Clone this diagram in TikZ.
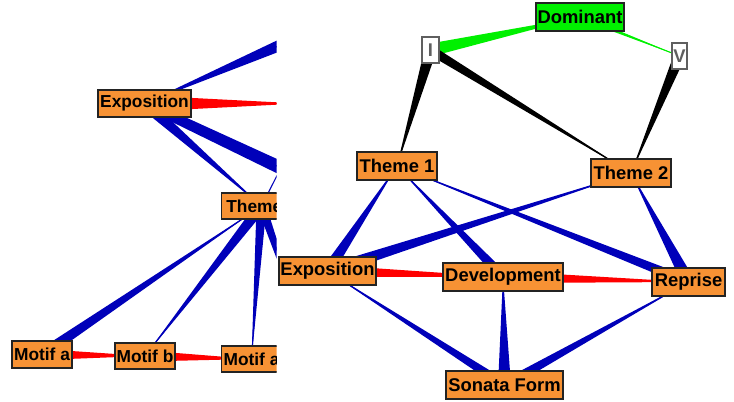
\documentclass[tikz,border=0pt]{standalone}
\usepackage{fontspec}
\setmainfont{Liberation Sans}
\usetikzlibrary{calc}
\pgfdeclarelayer{bg}
\pgfsetlayers{bg,main}
\definecolor{orng}{RGB}{247,146,52}
\definecolor{grn}{RGB}{0,240,0}
\definecolor{eblue}{RGB}{0,0,185}
\definecolor{ered}{RGB}{255,0,0}
\definecolor{bord}{RGB}{35,35,35}
\definecolor{rgray}{RGB}{95,95,95}
% tapered connector: colour, thick node, other node, width at first (px), width at second (px)
\newcommand\tpr[5]{%
  \fill[#1] ($(#2)!#4*0.375pt!90:(#3)$) -- ($(#3)!#5*0.375pt!-90:(#2)$)
    -- ($(#3)!#5*0.375pt!90:(#2)$) -- ($(#2)!#4*0.375pt!-90:(#3)$) -- cycle;
  \draw[#1,line width=0.8pt] (#2) -- (#3);}
\tikzset{
  sz/.style 2 args={minimum width=#1*0.75pt, minimum height=#2*0.75pt},
  obox/.style={draw=bord, line width=0.8pt, fill=orng, inner sep=0pt, text=black},
  gbox/.style={obox, fill=grn},
  wbox/.style={draw=rgray, line width=0.8pt, fill=white, inner sep=0pt, text=rgray},
  lfont/.style={font=\fontsize{13}{15}\selectfont\bfseries},
  rfont/.style={font=\fontsize{13.8}{16}\selectfont\bfseries}
}
\begin{document}
\begin{tikzpicture}[x=0.75pt,y=-0.75pt]
\useasboundingbox (0,0) rectangle (734,402);
% ---------- left panel (cut at the right) ----------
\begin{scope}
  \clip (0,0) rectangle (276.5,402);
  \node[obox,lfont,sz={93}{27}] (eL) at (144.5,103.5) {Exposition};
  \node[obox,lfont,sz={80}{26},anchor=west] (tL) at (221,206) {Theme 1};
  \node[obox,lfont,sz={60}{27}] (maL) at (42,354.5) {Motif a};
  \node[obox,lfont,sz={60}{26}] (mb) at (145,356) {Motif b};
  \node[obox,lfont,sz={60}{26},anchor=west] (maR) at (221,359) {Motif a};
  \coordinate (cUR) at (330,23.8);
  \coordinate (cR) at (300,103.5);
  \coordinate (cR2) at (480,262);
  \coordinate (cUp) at (290,150);
  \coordinate (cDR) at (315,360);
\end{scope}
\begin{pgfonlayer}{bg}
\begin{scope}
  \clip (0,0) rectangle (276.5,402);
  \tpr{eblue}{cUR}{eL}{15.5}{0}
  \tpr{ered}{eL}{cR}{16}{0}
  \tpr{eblue}{eL}{tL}{12}{0}
  \tpr{eblue}{eL}{cR2}{9}{19}
  \draw[eblue,line width=0.8pt] (tL) -- (cUp);
  \tpr{eblue}{tL}{cDR}{9}{0}
  \tpr{eblue}{maL}{tL}{11}{0}
  \tpr{eblue}{tL}{mb}{11}{0}
  \tpr{eblue}{tL}{maR}{10}{0}
  \tpr{ered}{maL}{mb}{11}{0}
  \tpr{ered}{mb}{maR}{11}{0}
\end{scope}
\end{pgfonlayer}
% ---------- right panel ----------
\node[gbox,rfont,sz={88}{28}] (dom) at (580,17) {Dominant};
\node[wbox,rfont,sz={17}{26}] (nI) at (430.5,50) {I};
\node[wbox,rfont,sz={15}{26}] (nV) at (679.5,56) {V};
\node[obox,rfont,sz={80}{28}] (t1) at (397,166) {Theme 1};
\node[obox,rfont,sz={80}{28}] (t2) at (631,173) {Theme 2};
\node[obox,rfont,sz={97}{28}] (ex) at (327.5,271) {Exposition};
\node[obox,rfont,sz={120}{28}] (dv) at (503,277) {Development};
\node[obox,rfont,sz={73}{28}] (rp) at (688.5,282) {Reprise};
\node[obox,rfont,sz={117}{28}] (sf) at (504.5,385) {Sonata Form};
\begin{pgfonlayer}{bg}
  \tpr{grn}{nI}{dom}{13}{0}
  \tpr{grn}{dom}{nV}{4.5}{0}
  \tpr{black}{nI}{t1}{12}{0}
  \tpr{black}{nI}{t2}{9.5}{0}
  \tpr{black}{nV}{t2}{11.5}{0}
  \tpr{eblue}{ex}{t1}{12}{0}
  \tpr{eblue}{dv}{t1}{10.5}{0}
  \tpr{eblue}{rp}{t1}{10}{0}
  \tpr{eblue}{ex}{t2}{12}{0}
  \tpr{eblue}{rp}{t2}{13}{0}
  \tpr{ered}{ex}{dv}{12}{0}
  \tpr{ered}{dv}{rp}{12}{0}
  \tpr{eblue}{sf}{ex}{9.5}{0}
  \tpr{eblue}{sf}{dv}{13}{0}
  \tpr{eblue}{sf}{rp}{10}{0}
\end{pgfonlayer}
\end{tikzpicture}
\end{document}
